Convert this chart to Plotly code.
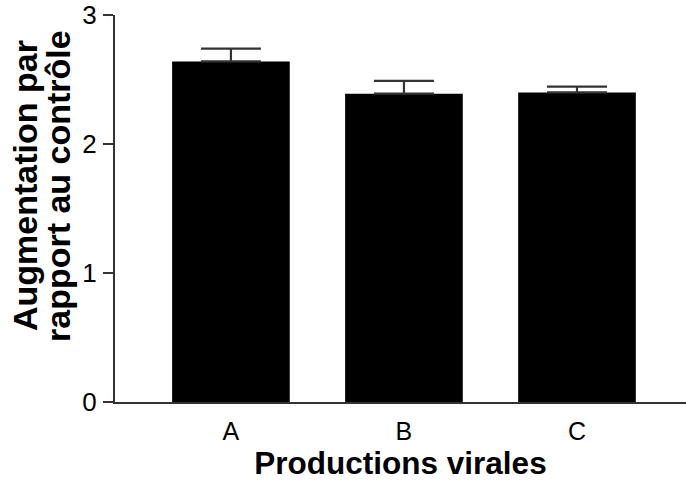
import plotly.graph_objects as go

categories = ["A", "B", "C"]
values = [2.64, 2.39, 2.40]
errors = [0.10, 0.10, 0.045]
y_ticks = [0, 1, 2, 3]
y_title_lines = ["Augmentation par", "rapport au contrôle"]

fig = go.Figure()
fig.add_trace(go.Bar(
    x=categories,
    y=values,
    width=0.68,
    marker=dict(color="black", line=dict(width=0)),
    error_y=dict(type="data", array=errors, arrayminus=[0] * len(errors),
                 symmetric=False, color="#333333", thickness=2.2, width=30),
    showlegend=False,
))

font_family = "Liberation Sans, Arial, sans-serif"
annots = []
for txt, xc in zip(y_title_lines, [25, 58]):
    annots.append(dict(
        text=txt,
        xref="paper", yref="paper",
        x=(xc - 115) / 571, y=(402 - 186) / 387,
        xanchor="center", yanchor="middle",
        textangle=-90, showarrow=False, align="center",
        font=dict(size=34, weight="bold", family=font_family, color="black"),
    ))

fig.update_layout(
    width=686, height=484,
    margin=dict(l=115, r=0, t=15, b=82, autoexpand=False),
    plot_bgcolor="white", paper_bgcolor="white",
    font=dict(family=font_family, color="black"),
    xaxis=dict(
        range=[-0.67, 2.63],
        showline=True, linecolor="#333333", linewidth=2,
        ticks="", showgrid=False, zeroline=False,
        tickfont=dict(size=25),
        ticklabelstandoff=6,
        automargin=False,
        title=dict(text="Productions virales", font=dict(size=31.5, weight="bold"), standoff=7),
    ),
    yaxis=dict(
        range=[0, 3],
        tickvals=y_ticks,
        showline=True, linecolor="#333333", linewidth=2,
        ticks="outside", ticklen=10, tickwidth=2, tickcolor="#333333",
        showgrid=False, zeroline=False,
        tickfont=dict(size=26),
        ticklabelstandoff=1,
        automargin=False,
    ),
    annotations=annots,
)

fig.write_html("out.html", post_script="document.body.style.margin='0';",
               config={"displayModeBar": False})
